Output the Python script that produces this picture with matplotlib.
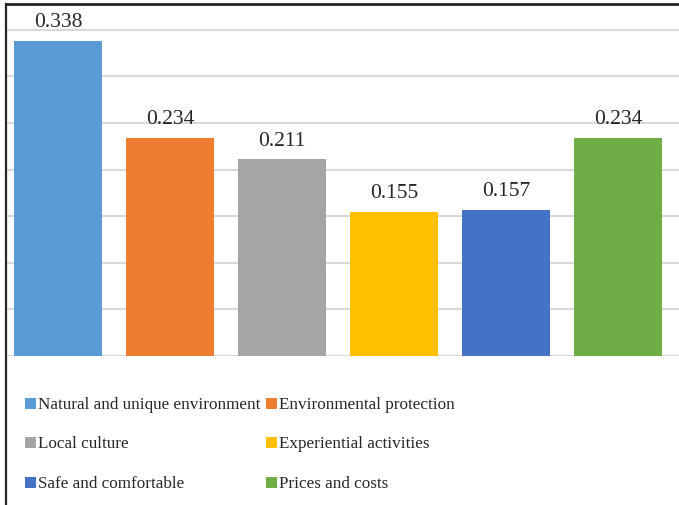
import matplotlib
matplotlib.use("Agg")
import matplotlib.pyplot as plt
from matplotlib.patches import Rectangle
from matplotlib.lines import Line2D

categories = [
    "Natural and unique environment",
    "Environmental protection",
    "Local culture",
    "Experiential activities",
    "Safe and comfortable",
    "Prices and costs",
]
values = [0.338, 0.234, 0.211, 0.155, 0.157, 0.234]
colors = ["#5B9BD5", "#ED7D31", "#A5A5A5", "#FFC000", "#4472C4", "#70AD47"]
grid_ticks = [0.0, 0.05, 0.10, 0.15, 0.20, 0.25, 0.30, 0.35]

W, H = 679, 506
plt.rcParams["font.family"] = ["Liberation Serif", "DejaVu Serif"]
fig = plt.figure(figsize=(W / 100, H / 100), dpi=100)

def fx(px):
    return px / W

def fy(py):
    return 1 - py / H

# plot area: baseline at 356 px, top edge at 5 px
ax = fig.add_axes([fx(6), fy(357), 1 - fx(6), (357 - 5) / H])
ax.set_ylim(0, 352 / 932)
ax.set_xlim(-0.464, 5.545)

for t in grid_ticks:
    ax.axhline(t, color="#D9D9D9", lw=1.5, zorder=0)

x = list(range(len(values)))
bars = ax.bar(x, values, width=0.786, color=colors, zorder=2)
for xi, v in zip(x, values):
    ax.annotate(f"{v:.3f}", (xi, v), xytext=(0, 7), textcoords="offset points",
                ha="center", va="bottom", fontsize=15.5, color="#262626")

ax.set_xticks([])
ax.set_yticks([])
for s in ax.spines.values():
    s.set_visible(False)

# outer frame lines (top and left)
fig.add_artist(Line2D([fx(6), fx(6)], [fy(5), 0], color="#262626", lw=1.6))
fig.add_artist(Line2D([fx(6), 1], [fy(5), fy(5)], color="#262626", lw=2.0))

# legend in two columns
col_x = [25, 266]
row_y = [404, 443, 483]
sq = 11
for i, (name, c) in enumerate(zip(categories, colors)):
    cx = col_x[i % 2]
    cy = row_y[i // 2]
    fig.add_artist(Rectangle((fx(cx), fy(cy + sq / 2)), sq / W, sq / H,
                             facecolor=c, edgecolor="none"))
    fig.text(fx(cx + sq + 2), fy(cy + 1), name, ha="left", va="center",
             fontsize=12.3, color="#262626")

fig.savefig("out.png", dpi=100)
